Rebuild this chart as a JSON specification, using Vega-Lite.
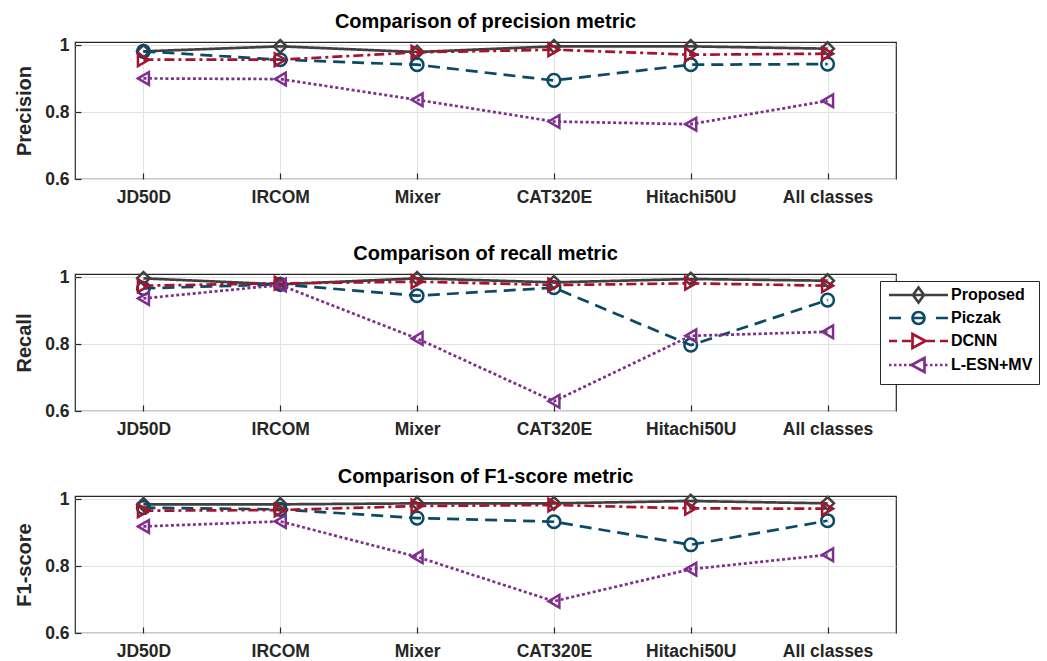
{
  "$schema": "https://vega.github.io/schema/vega-lite/v6.json",
  "padding": {"left": 14, "top": 11, "right": 0, "bottom": 0},
  "spacing": 36,
  "background": "white",
  "datasets": {
    "m": [
      {"metric": "Precision", "cls": "JD50D", "model": "Proposed", "value": 0.982},
      {"metric": "Precision", "cls": "IRCOM", "model": "Proposed", "value": 0.997},
      {"metric": "Precision", "cls": "Mixer", "model": "Proposed", "value": 0.980},
      {"metric": "Precision", "cls": "CAT320E", "model": "Proposed", "value": 0.997},
      {"metric": "Precision", "cls": "Hitachi50U", "model": "Proposed", "value": 0.997},
      {"metric": "Precision", "cls": "All classes", "model": "Proposed", "value": 0.990},
      {"metric": "Precision", "cls": "JD50D", "model": "Piczak", "value": 0.982},
      {"metric": "Precision", "cls": "IRCOM", "model": "Piczak", "value": 0.957},
      {"metric": "Precision", "cls": "Mixer", "model": "Piczak", "value": 0.942},
      {"metric": "Precision", "cls": "CAT320E", "model": "Piczak", "value": 0.895},
      {"metric": "Precision", "cls": "Hitachi50U", "model": "Piczak", "value": 0.942},
      {"metric": "Precision", "cls": "All classes", "model": "Piczak", "value": 0.944},
      {"metric": "Precision", "cls": "JD50D", "model": "DCNN", "value": 0.957},
      {"metric": "Precision", "cls": "IRCOM", "model": "DCNN", "value": 0.957},
      {"metric": "Precision", "cls": "Mixer", "model": "DCNN", "value": 0.979},
      {"metric": "Precision", "cls": "CAT320E", "model": "DCNN", "value": 0.987},
      {"metric": "Precision", "cls": "Hitachi50U", "model": "DCNN", "value": 0.972},
      {"metric": "Precision", "cls": "All classes", "model": "DCNN", "value": 0.975},
      {"metric": "Precision", "cls": "JD50D", "model": "L-ESN+MV", "value": 0.901},
      {"metric": "Precision", "cls": "IRCOM", "model": "L-ESN+MV", "value": 0.899},
      {"metric": "Precision", "cls": "Mixer", "model": "L-ESN+MV", "value": 0.837},
      {"metric": "Precision", "cls": "CAT320E", "model": "L-ESN+MV", "value": 0.772},
      {"metric": "Precision", "cls": "Hitachi50U", "model": "L-ESN+MV", "value": 0.764},
      {"metric": "Precision", "cls": "All classes", "model": "L-ESN+MV", "value": 0.834},

      {"metric": "Recall", "cls": "JD50D", "model": "Proposed", "value": 0.997},
      {"metric": "Recall", "cls": "IRCOM", "model": "Proposed", "value": 0.979},
      {"metric": "Recall", "cls": "Mixer", "model": "Proposed", "value": 0.997},
      {"metric": "Recall", "cls": "CAT320E", "model": "Proposed", "value": 0.985},
      {"metric": "Recall", "cls": "Hitachi50U", "model": "Proposed", "value": 0.995},
      {"metric": "Recall", "cls": "All classes", "model": "Proposed", "value": 0.990},
      {"metric": "Recall", "cls": "JD50D", "model": "Piczak", "value": 0.967},
      {"metric": "Recall", "cls": "IRCOM", "model": "Piczak", "value": 0.979},
      {"metric": "Recall", "cls": "Mixer", "model": "Piczak", "value": 0.945},
      {"metric": "Recall", "cls": "CAT320E", "model": "Piczak", "value": 0.969},
      {"metric": "Recall", "cls": "Hitachi50U", "model": "Piczak", "value": 0.797},
      {"metric": "Recall", "cls": "All classes", "model": "Piczak", "value": 0.932},
      {"metric": "Recall", "cls": "JD50D", "model": "DCNN", "value": 0.975},
      {"metric": "Recall", "cls": "IRCOM", "model": "DCNN", "value": 0.982},
      {"metric": "Recall", "cls": "Mixer", "model": "DCNN", "value": 0.987},
      {"metric": "Recall", "cls": "CAT320E", "model": "DCNN", "value": 0.977},
      {"metric": "Recall", "cls": "Hitachi50U", "model": "DCNN", "value": 0.982},
      {"metric": "Recall", "cls": "All classes", "model": "DCNN", "value": 0.975},
      {"metric": "Recall", "cls": "JD50D", "model": "L-ESN+MV", "value": 0.937},
      {"metric": "Recall", "cls": "IRCOM", "model": "L-ESN+MV", "value": 0.977},
      {"metric": "Recall", "cls": "Mixer", "model": "L-ESN+MV", "value": 0.817},
      {"metric": "Recall", "cls": "CAT320E", "model": "L-ESN+MV", "value": 0.629},
      {"metric": "Recall", "cls": "Hitachi50U", "model": "L-ESN+MV", "value": 0.825},
      {"metric": "Recall", "cls": "All classes", "model": "L-ESN+MV", "value": 0.837},

      {"metric": "F1-score", "cls": "JD50D", "model": "Proposed", "value": 0.985},
      {"metric": "F1-score", "cls": "IRCOM", "model": "Proposed", "value": 0.985},
      {"metric": "F1-score", "cls": "Mixer", "model": "Proposed", "value": 0.988},
      {"metric": "F1-score", "cls": "CAT320E", "model": "Proposed", "value": 0.988},
      {"metric": "F1-score", "cls": "Hitachi50U", "model": "Proposed", "value": 0.995},
      {"metric": "F1-score", "cls": "All classes", "model": "Proposed", "value": 0.988},
      {"metric": "F1-score", "cls": "JD50D", "model": "Piczak", "value": 0.975},
      {"metric": "F1-score", "cls": "IRCOM", "model": "Piczak", "value": 0.970},
      {"metric": "F1-score", "cls": "Mixer", "model": "Piczak", "value": 0.944},
      {"metric": "F1-score", "cls": "CAT320E", "model": "Piczak", "value": 0.933},
      {"metric": "F1-score", "cls": "Hitachi50U", "model": "Piczak", "value": 0.864},
      {"metric": "F1-score", "cls": "All classes", "model": "Piczak", "value": 0.936},
      {"metric": "F1-score", "cls": "JD50D", "model": "DCNN", "value": 0.966},
      {"metric": "F1-score", "cls": "IRCOM", "model": "DCNN", "value": 0.968},
      {"metric": "F1-score", "cls": "Mixer", "model": "DCNN", "value": 0.980},
      {"metric": "F1-score", "cls": "CAT320E", "model": "DCNN", "value": 0.983},
      {"metric": "F1-score", "cls": "Hitachi50U", "model": "DCNN", "value": 0.973},
      {"metric": "F1-score", "cls": "All classes", "model": "DCNN", "value": 0.972},
      {"metric": "F1-score", "cls": "JD50D", "model": "L-ESN+MV", "value": 0.919},
      {"metric": "F1-score", "cls": "IRCOM", "model": "L-ESN+MV", "value": 0.934},
      {"metric": "F1-score", "cls": "Mixer", "model": "L-ESN+MV", "value": 0.828},
      {"metric": "F1-score", "cls": "CAT320E", "model": "L-ESN+MV", "value": 0.695},
      {"metric": "F1-score", "cls": "Hitachi50U", "model": "L-ESN+MV", "value": 0.791},
      {"metric": "F1-score", "cls": "All classes", "model": "L-ESN+MV", "value": 0.834}
    ]
  },
  "config": {
    "font": "Liberation Sans",
    "view": {"stroke": "#262626", "strokeWidth": 1.2},
    "axis": {
      "labelFont": "Liberation Sans",
      "labelFontSize": 17.5,
      "labelFontWeight": "bold",
      "labelColor": "#262626",
      "titleFont": "Liberation Sans",
      "titleFontSize": 20,
      "titleFontWeight": "bold",
      "titleColor": "#262626",
      "gridColor": "#e2e2e2",
      "gridWidth": 1,
      "domain": false,
      "tickColor": "#262626",
      "tickSize": -6,
      "tickWidth": 1.2
    },
    "title": {"font": "Liberation Sans", "fontSize": 20, "fontWeight": "bold", "color": "#000000", "offset": 3},
    "line": {"strokeWidth": 2.7},
    "point": {"filled": false, "size": 160, "strokeWidth": 2.5, "opacity": 1}
  },
  "resolve": {"scale": {"shape": "independent"}, "legend": {"color": "independent", "shape": "independent"}},
  "vconcat": [
    {
      "width": 821,
      "height": 137,
      "title": "Comparison of precision metric",
      "data": {"name": "m"},
      "transform": [{"filter": "datum.metric == 'Precision'"}],
      "encoding": {
        "x": {"field": "cls", "type": "ordinal", "sort": ["JD50D", "IRCOM", "Mixer", "CAT320E", "Hitachi50U", "All classes"], "scale": {"type": "point", "padding": 0.5}, "axis": {"title": null, "labelAngle": 0, "grid": true, "labelPadding": 15}},
        "y": {"field": "value", "type": "quantitative", "scale": {"domain": [0.6, 1.01], "nice": false, "zero": false}, "axis": {"title": "Precision", "values": [0.6, 0.8, 1], "format": "~g", "labelPadding": 12, "titlePadding": 10}},
        "color": {"field": "model", "type": "nominal", "scale": {"domain": ["Proposed", "Piczak", "DCNN", "L-ESN+MV"], "range": ["#404040", "#0b4a66", "#a5132f", "#7e2f8e"]}, "legend": null}
      },
      "layer": [
        {"mark": {"type": "line"}, "encoding": {"strokeDash": {"field": "model", "type": "nominal", "scale": {"domain": ["DCNN", "L-ESN+MV", "Proposed", "Piczak"], "range": [[10, 4, 3, 4], [3, 2.5], [1, 0], [12, 7]]}, "legend": null}}},
        {"mark": {"type": "point"}, "encoding": {"shape": {"field": "model", "type": "nominal", "scale": {"domain": ["Piczak", "Proposed", "L-ESN+MV", "DCNN"], "range": ["circle", "diamond", "triangle-left", "triangle-right"]}, "legend": null}}}
      ]
    },
    {
      "spacing": 27,
      "resolve": {"scale": {"shape": "independent"}, "legend": {"color": "independent", "shape": "independent"}},
      "vconcat": [
        {
          "width": 821,
          "height": 137,
          "title": "Comparison of recall metric",
          "data": {"name": "m"},
          "transform": [{"filter": "datum.metric == 'Recall'"}],
          "encoding": {
            "x": {"field": "cls", "type": "ordinal", "sort": ["JD50D", "IRCOM", "Mixer", "CAT320E", "Hitachi50U", "All classes"], "scale": {"type": "point", "padding": 0.5}, "axis": {"title": null, "labelAngle": 0, "grid": true, "labelPadding": 15}},
            "y": {"field": "value", "type": "quantitative", "scale": {"domain": [0.6, 1.01], "nice": false, "zero": false}, "axis": {"title": "Recall", "values": [0.6, 0.8, 1], "format": "~g", "labelPadding": 12, "titlePadding": 10}},
            "color": {
              "field": "model", "type": "nominal",
              "scale": {"domain": ["Proposed", "Piczak", "DCNN", "L-ESN+MV"], "range": ["#404040", "#0b4a66", "#a5132f", "#7e2f8e"]},
              "legend": {
                "title": null, "orient": "none", "legendX": 805, "legendY": 7,
                "fillColor": "white", "strokeColor": "#262626", "padding": 6, "rowPadding": -2,
                "symbolSize": 100, "symbolStrokeWidth": 2.2, "symbolOpacity": 1, "symbolFillColor": "transparent",
                "labelOffset": 49, "labelFont": "Liberation Sans", "labelFontSize": 16, "labelFontWeight": "bold", "labelColor": "#000000"
              }
            }
          },
          "layer": [
            {"mark": {"type": "line"}, "encoding": {"strokeDash": {"field": "model", "type": "nominal", "scale": {"domain": ["DCNN", "L-ESN+MV", "Proposed", "Piczak"], "range": [[10, 4, 3, 4], [3, 2.5], [1, 0], [12, 7]]}, "legend": null}}},
            {"transform": [{"filter": "datum.model == 'Proposed'"}], "mark": {"type": "point", "shape": "diamond"}},
            {"transform": [{"filter": "datum.model == 'Piczak'"}], "mark": {"type": "point", "shape": "circle"}},
            {"transform": [{"filter": "datum.model == 'DCNN'"}], "mark": {"type": "point", "shape": "triangle-right"}},
            {"transform": [{"filter": "datum.model == 'L-ESN+MV'"}], "mark": {"type": "point", "shape": "triangle-left"}},
            {
              "mark": {"type": "point", "opacity": 0, "filled": false, "size": 100, "strokeWidth": 2.2},
              "encoding": {
                "shape": {
                  "field": "model", "type": "nominal",
                  "scale": {
                    "domain": ["Proposed", "Piczak", "DCNN", "L-ESN+MV"],
                    "range": [
                      "M-1,0H10.8M4.9,-1.5L6,0L4.9,1.5L3.8,0Z",
                      "M-1,0H1.4M8.4,0H10.8M3.9,0H5.9M6.1,0A1.2,1.2 0 1,1 3.7,0A1.2,1.2 0 1,1 6.1,0",
                      "M-1,0H0.6M1.6,0H3.4M6.4,0H8.2M9.2,0H10.8M3.7,-1.4L6.3,0L3.7,1.4Z",
                      "M-1,0H-0.5M0,0H0.5M1,0H1.5M2,0H2.5M3,0H3.6M6.2,0H6.7M7.2,0H7.7M8.2,0H8.7M9.2,0H9.7M10.2,0H10.7M6.1,-1.4L3.5,0L6.1,1.4Z"
                    ]
                  },
                  "legend": {
                    "title": null, "orient": "none", "legendX": 805, "legendY": 7,
                    "fillColor": "white", "strokeColor": "#262626", "padding": 6, "rowPadding": -2,
                    "symbolSize": 100, "symbolStrokeWidth": 2.2, "symbolOpacity": 1, "symbolFillColor": "transparent",
                    "labelOffset": 49, "labelFont": "Liberation Sans", "labelFontSize": 16, "labelFontWeight": "bold", "labelColor": "#000000"
                  }
                }
              }
            }
          ]
        },
        {
          "width": 821,
          "height": 137,
          "title": "Comparison of F1-score metric",
          "data": {"name": "m"},
          "transform": [{"filter": "datum.metric == 'F1-score'"}],
          "encoding": {
            "x": {"field": "cls", "type": "ordinal", "sort": ["JD50D", "IRCOM", "Mixer", "CAT320E", "Hitachi50U", "All classes"], "scale": {"type": "point", "padding": 0.5}, "axis": {"title": null, "labelAngle": 0, "grid": true, "labelPadding": 15}},
            "y": {"field": "value", "type": "quantitative", "scale": {"domain": [0.6, 1.01], "nice": false, "zero": false}, "axis": {"title": "F1-score", "values": [0.6, 0.8, 1], "format": "~g", "labelPadding": 12, "titlePadding": 10}},
            "color": {"field": "model", "type": "nominal", "scale": {"domain": ["Proposed", "Piczak", "DCNN", "L-ESN+MV"], "range": ["#404040", "#0b4a66", "#a5132f", "#7e2f8e"]}, "legend": null}
          },
          "layer": [
            {"mark": {"type": "line"}, "encoding": {"strokeDash": {"field": "model", "type": "nominal", "scale": {"domain": ["DCNN", "L-ESN+MV", "Proposed", "Piczak"], "range": [[10, 4, 3, 4], [3, 2.5], [1, 0], [12, 7]]}, "legend": null}}},
            {"mark": {"type": "point"}, "encoding": {"shape": {"field": "model", "type": "nominal", "scale": {"domain": ["Piczak", "Proposed", "L-ESN+MV", "DCNN"], "range": ["circle", "diamond", "triangle-left", "triangle-right"]}, "legend": null}}}
          ]
        }
      ]
    }
  ]
}
